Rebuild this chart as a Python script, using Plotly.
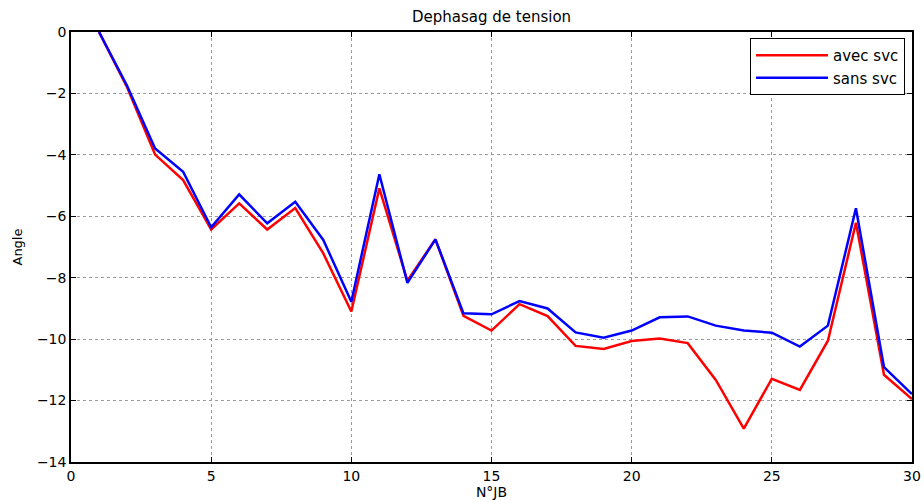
import plotly.graph_objects as go

# Bus numbers and voltage phase angles (degrees)
bus = list(range(1, 31))
avec_svc = [0, -1.8, -3.99, -4.82, -6.43, -5.58, -6.43, -5.73, -7.21, -9.1,
            -5.09, -8.1, -6.75, -9.24, -9.72, -8.86, -9.25, -10.22, -10.32, -10.06,
            -9.98, -10.13, -11.33, -12.91, -11.29, -11.65, -10.05, -6.21, -11.16, -11.95]
sans_svc = [0, -1.75, -3.79, -4.55, -6.36, -5.29, -6.23, -5.53, -6.77, -8.78,
            -4.63, -8.17, -6.75, -9.16, -9.19, -8.76, -9.0, -9.78, -9.95, -9.72,
            -9.29, -9.26, -9.56, -9.72, -9.79, -10.24, -9.56, -5.74, -10.91, -11.79]

font_family = "DejaVu Sans, Liberation Sans, Arial, sans-serif"

fig = go.Figure()
fig.add_trace(go.Scatter(x=bus, y=avec_svc, mode="lines", name="avec svc",
                         line=dict(color="#ff0000", width=2.5)))
fig.add_trace(go.Scatter(x=bus, y=sans_svc, mode="lines", name="sans svc",
                         line=dict(color="#0000ff", width=2.5)))

axis_common = dict(
    showline=True, linecolor="black", linewidth=1.5, mirror="ticks",
    ticks="inside", ticklen=5, tickcolor="black", tickwidth=1,
    showgrid=True, gridcolor="#9a9a9a", griddash="dot", gridwidth=1,
    zeroline=False, automargin=False,
    tickfont=dict(family=font_family, size=14, color="black"),
)

fig.update_layout(
    width=924, height=500,
    margin=dict(l=71, r=12, t=32, b=38),
    paper_bgcolor="white", plot_bgcolor="white",
    title=dict(text="Dephasag de tension", x=0.532, xanchor="center", y=0.966, yanchor="middle",
               font=dict(family=font_family, size=15, color="black")),
    xaxis=dict(range=[0, 30], tickvals=[0, 5, 10, 15, 20, 25, 30],
               title=dict(text="N°JB", standoff=0,
                          font=dict(family=font_family, size=14, color="black")),
               **axis_common),
    yaxis=dict(range=[-14, 0], tickvals=[0, -2, -4, -6, -8, -10, -12, -14],
               title=dict(text="Angle", standoff=11,
                          font=dict(family=font_family, size=13, color="black")),
               **axis_common),
    legend=dict(x=0.9917, y=0.986, xanchor="right", yanchor="top",
                bgcolor="white", bordercolor="black", borderwidth=1,
                font=dict(family=font_family, size=15, color="black"),
                itemwidth=72, tracegroupgap=0),
    showlegend=True,
)

fig.write_html("out.html")
